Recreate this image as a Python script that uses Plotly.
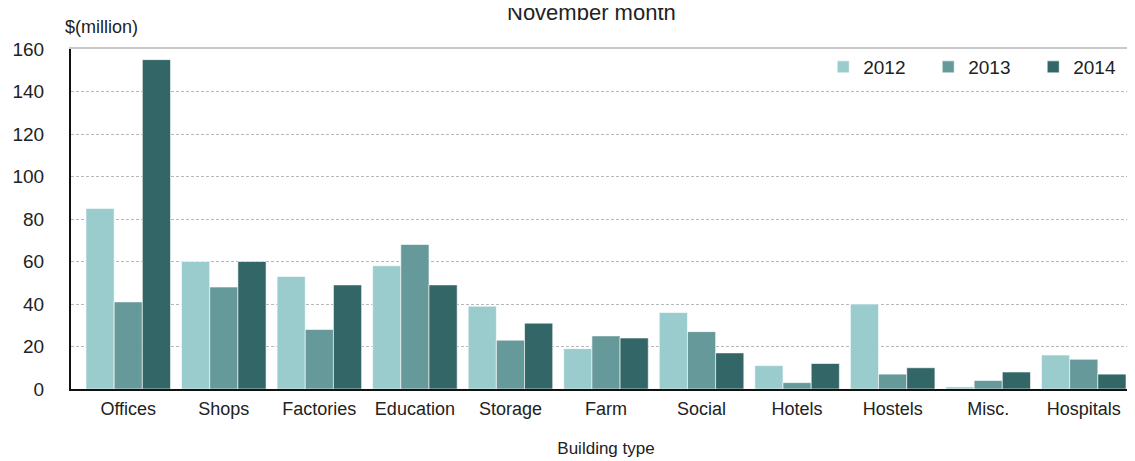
import plotly.graph_objects as go

categories = ["Offices", "Shops", "Factories", "Education", "Storage", "Farm",
              "Social", "Hotels", "Hostels", "Misc.", "Hospitals"]
years = ["2012", "2013", "2014"]
v2012 = [85, 60, 53, 58, 39, 19, 36, 11, 40, 1, 16]
v2013 = [41, 48, 28, 68, 23, 25, 27, 3, 7, 4, 14]
v2014 = [155, 60, 49, 49, 31, 24, 17, 12, 10, 8, 7]
colors = ["#9ACCCD", "#669999", "#336666"]
yticks = [0, 20, 40, 60, 80, 100, 120, 140, 160]

FONT = "Liberation Sans, Arial, sans-serif"
TXT = "#222222"

fig = go.Figure()
for name, vals, c in zip(years, [v2012, v2013, v2014], colors):
    fig.add_trace(go.Bar(x=categories, y=vals, name=name,
                         marker=dict(color=c, line=dict(color="white", width=0.6))))

# invisible trace on overlay axis to draw a gray top frame line
fig.add_trace(go.Scatter(x=categories, y=[None]*len(categories), xaxis="x2",
                         showlegend=False, hoverinfo="skip"))

fig.update_layout(
    width=1135, height=461, autosize=False,
    paper_bgcolor="white", plot_bgcolor="white",
    margin=dict(l=63, r=2, t=41, b=80, autoexpand=False),
    barmode="group", bargap=0.115, bargroupgap=0,
    font=dict(family=FONT, color=TXT, size=16),
    xaxis=dict(showline=True, linecolor="#111111", linewidth=2, ticks="",
               tickfont=dict(size=18), showgrid=False, ticklabelstandoff=2,
               title=dict(text="Building type", font=dict(size=17), standoff=25)),
    xaxis2=dict(overlaying="x", side="top", showline=True, linecolor="#c8c8c8",
                linewidth=1.5, showticklabels=False, ticks="", showgrid=False,
                matches="x"),
    yaxis=dict(range=[0, 160], tickvals=yticks, showline=True, linecolor="#111111",
               linewidth=2, ticks="", tickfont=dict(size=19), showgrid=True,
               ticklabelstandoff=21,
               gridcolor="#b8b8b8", griddash="3px,2px", gridwidth=1, zeroline=False),
    legend=dict(orientation="h", x=0.703, y=0.947, xanchor="left", yanchor="middle",
                font=dict(size=19), entrywidth=60, entrywidthmode="pixels",
                itemwidth=30, bgcolor="rgba(255,255,255,0)"),
    annotations=[
        dict(text="$(million)", xref="paper", yref="paper", x=0.0, y=1.0,
             xanchor="left", yanchor="bottom", yshift=10, xshift=-8, showarrow=False,
             font=dict(size=18, family=FONT, color=TXT)),
        dict(text="November month", xref="paper", yref="paper", x=0.486, y=1.0,
             xanchor="center", yanchor="bottom", yshift=22, showarrow=False,
             font=dict(size=22, family=FONT, color=TXT)),
    ],
)

fig.write_html("out.html")
